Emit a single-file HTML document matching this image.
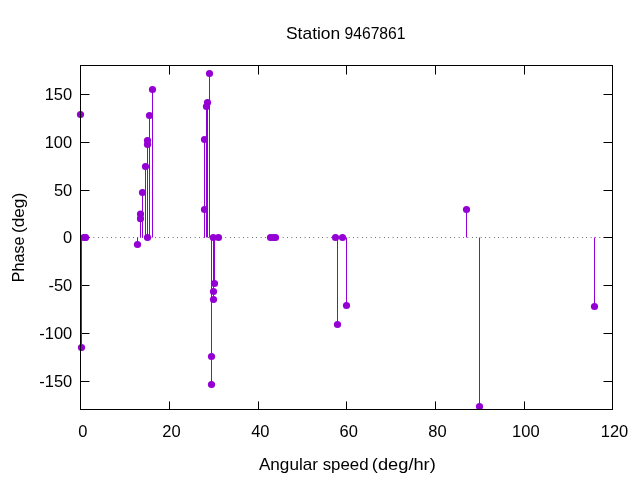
<!DOCTYPE html>
<html lang="en">
<head>
<meta charset="utf-8">
<title>Station 9467861</title>
<style>
html,body{margin:0;padding:0;background:#fff;}
body{width:640px;height:480px;overflow:hidden;}
svg{display:block;}
text{font-family:"Liberation Sans",sans-serif;font-size:16px;fill:#000;}
</style>
</head>
<body>
<svg width="640" height="480" viewBox="0 0 640 480">
<rect x="0" y="0" width="640" height="480" fill="#ffffff"/>
<line x1="80.4" y1="237.5" x2="612.5" y2="237.5" stroke="#000" stroke-width="1" stroke-dasharray="0.55 3.85"/>
<g stroke="#000" stroke-width="1" fill="none">
<line x1="80.5" y1="94.5" x2="89.5" y2="94.5"/><line x1="612.5" y1="94.5" x2="603.5" y2="94.5"/>
<line x1="80.5" y1="142.5" x2="89.5" y2="142.5"/><line x1="612.5" y1="142.5" x2="603.5" y2="142.5"/>
<line x1="80.5" y1="190.5" x2="89.5" y2="190.5"/><line x1="612.5" y1="190.5" x2="603.5" y2="190.5"/>
<line x1="80.5" y1="237.5" x2="89.5" y2="237.5"/><line x1="612.5" y1="237.5" x2="603.5" y2="237.5"/>
<line x1="80.5" y1="285.5" x2="89.5" y2="285.5"/><line x1="612.5" y1="285.5" x2="603.5" y2="285.5"/>
<line x1="80.5" y1="333.5" x2="89.5" y2="333.5"/><line x1="612.5" y1="333.5" x2="603.5" y2="333.5"/>
<line x1="80.5" y1="381.5" x2="89.5" y2="381.5"/><line x1="612.5" y1="381.5" x2="603.5" y2="381.5"/>
<line x1="80.5" y1="409.5" x2="80.5" y2="401.4"/><line x1="80.5" y1="65.5" x2="80.5" y2="74.5"/>
<line x1="169.5" y1="409.5" x2="169.5" y2="401.4"/><line x1="169.5" y1="65.5" x2="169.5" y2="74.5"/>
<line x1="258.5" y1="409.5" x2="258.5" y2="401.4"/><line x1="258.5" y1="65.5" x2="258.5" y2="74.5"/>
<line x1="346.5" y1="409.5" x2="346.5" y2="401.4"/><line x1="346.5" y1="65.5" x2="346.5" y2="74.5"/>
<line x1="435.5" y1="409.5" x2="435.5" y2="401.4"/><line x1="435.5" y1="65.5" x2="435.5" y2="74.5"/>
<line x1="524.5" y1="409.5" x2="524.5" y2="401.4"/><line x1="524.5" y1="65.5" x2="524.5" y2="74.5"/>
<line x1="612.5" y1="409.5" x2="612.5" y2="401.4"/><line x1="612.5" y1="65.5" x2="612.5" y2="74.5"/>
</g>
<g stroke="#9400d3" stroke-width="1" fill="none">
<line x1="80.5" y1="237.5" x2="80.5" y2="114.5"/>
<line x1="81.5" y1="237.5" x2="81.5" y2="347.5"/>
<line x1="137.5" y1="237.5" x2="137.5" y2="244.5"/>
<line x1="140.5" y1="237.5" x2="140.5" y2="218.7"/>
<line x1="140.5" y1="237.5" x2="140.5" y2="214.1"/>
<line x1="142.5" y1="237.5" x2="142.5" y2="192.5"/>
<line x1="145.5" y1="237.5" x2="145.5" y2="166.5"/>
<line x1="147.5" y1="237.5" x2="147.5" y2="144.5"/>
<line x1="147.5" y1="237.5" x2="147.5" y2="140.5"/>
<line x1="149.5" y1="237.5" x2="149.5" y2="115.5"/>
<line x1="152.5" y1="237.5" x2="152.5" y2="89.5"/>
<line x1="204.5" y1="237.5" x2="204.5" y2="139.5"/>
<line x1="204.5" y1="237.5" x2="204.5" y2="209.5"/>
<line x1="206.5" y1="237.5" x2="206.5" y2="106.5"/>
<line x1="207.5" y1="237.5" x2="207.5" y2="102.5"/>
<line x1="209.5" y1="237.5" x2="209.5" y2="73.5"/>
<line x1="211.5" y1="237.5" x2="211.5" y2="356.5"/>
<line x1="211.5" y1="237.5" x2="211.5" y2="384.5"/>
<line x1="213.5" y1="237.5" x2="213.5" y2="291.5"/>
<line x1="213.5" y1="237.5" x2="213.5" y2="299.5"/>
<line x1="214.5" y1="237.5" x2="214.5" y2="283.5"/>
<line x1="337.5" y1="237.5" x2="337.5" y2="324.5"/>
<line x1="346.5" y1="237.5" x2="346.5" y2="305.5"/>
<line x1="466.5" y1="237.5" x2="466.5" y2="209.5"/>
<line x1="479.5" y1="237.5" x2="479.5" y2="406.5"/>
<line x1="594.5" y1="237.5" x2="594.5" y2="306.5"/>
</g>
<g fill="#9400d3" stroke="none">
<circle cx="80.5" cy="114.5" r="3.6"/>
<circle cx="81.5" cy="347.5" r="3.6"/>
<circle cx="83.9" cy="237.5" r="3.6"/>
<circle cx="85.2" cy="237.5" r="3.6"/>
<circle cx="85.5" cy="237.5" r="3.6"/>
<circle cx="137.5" cy="244.5" r="3.6"/>
<circle cx="140.5" cy="218.7" r="3.6"/>
<circle cx="140.5" cy="214.1" r="3.6"/>
<circle cx="142.5" cy="192.5" r="3.6"/>
<circle cx="145.5" cy="166.5" r="3.6"/>
<circle cx="147.5" cy="144.5" r="3.6"/>
<circle cx="147.5" cy="237.5" r="3.6"/>
<circle cx="147.5" cy="140.5" r="3.6"/>
<circle cx="149.5" cy="115.5" r="3.6"/>
<circle cx="152.5" cy="89.5" r="3.6"/>
<circle cx="204.5" cy="139.5" r="3.6"/>
<circle cx="204.5" cy="209.5" r="3.6"/>
<circle cx="206.5" cy="106.5" r="3.6"/>
<circle cx="207.5" cy="102.5" r="3.6"/>
<circle cx="209.5" cy="73.5" r="3.6"/>
<circle cx="211.5" cy="356.5" r="3.6"/>
<circle cx="211.5" cy="384.5" r="3.6"/>
<circle cx="213.3" cy="237.5" r="3.6"/>
<circle cx="213.5" cy="291.5" r="3.6"/>
<circle cx="213.5" cy="299.5" r="3.6"/>
<circle cx="214.5" cy="283.5" r="3.6"/>
<circle cx="218.5" cy="237.5" r="3.6"/>
<circle cx="270.5" cy="237.5" r="3.6"/>
<circle cx="273.5" cy="237.5" r="3.6"/>
<circle cx="275.5" cy="237.5" r="3.6"/>
<circle cx="335.5" cy="237.5" r="3.6"/>
<circle cx="337.5" cy="324.5" r="3.6"/>
<circle cx="342.5" cy="237.5" r="3.6"/>
<circle cx="346.5" cy="305.5" r="3.6"/>
<circle cx="466.5" cy="209.5" r="3.6"/>
<circle cx="479.5" cy="406.5" r="3.6"/>
<circle cx="594.5" cy="306.5" r="3.6"/>
</g>
<rect x="80.5" y="65.5" width="532" height="344" fill="none" stroke="#000" stroke-width="1"/>
<text transform="translate(44.69,100.25) scale(1.0300,1)">150</text>
<text transform="translate(44.69,148.25) scale(1.0300,1)">100</text>
<text transform="translate(53.96,196.25) scale(1.0300,1)">50</text>
<text transform="translate(63.10,243.25) scale(1.0300,1)">0</text>
<text transform="translate(48.42,291.25) scale(1.0300,1)">-50</text>
<text transform="translate(39.28,339.25) scale(1.0300,1)">-100</text>
<text transform="translate(39.28,387.25) scale(1.0300,1)">-150</text>
<text transform="translate(78.28,437.20) scale(1.0300,1)">0</text>
<text transform="translate(162.31,437.20) scale(1.0300,1)">20</text>
<text transform="translate(251.17,437.20) scale(1.0300,1)">40</text>
<text transform="translate(339.58,437.20) scale(1.0300,1)">60</text>
<text transform="translate(428.31,437.20) scale(1.0300,1)">80</text>
<text transform="translate(512.09,437.20) scale(1.0300,1)">100</text>
<text transform="translate(600.75,437.20) scale(1.0300,1)">120</text>
<text transform="translate(285.98,38.90) scale(1.0896,1)">Station</text>
<text transform="translate(344.51,38.90) scale(0.9802,1)">9467861</text>
<text transform="translate(258.90,470.00) scale(1.0715,1)">Angular</text>
<text transform="translate(322.67,470.00) scale(1.0548,1)">speed</text>
<text transform="translate(371.86,470.00) scale(1.1407,1)">(deg/hr)</text>
<text transform="translate(24.05,282.18) rotate(-90) scale(1.0058,1)">Phase</text>
<text transform="translate(24.05,233.08) rotate(-90) scale(1.0784,1)">(deg)</text>
</svg>
</body>
</html>
